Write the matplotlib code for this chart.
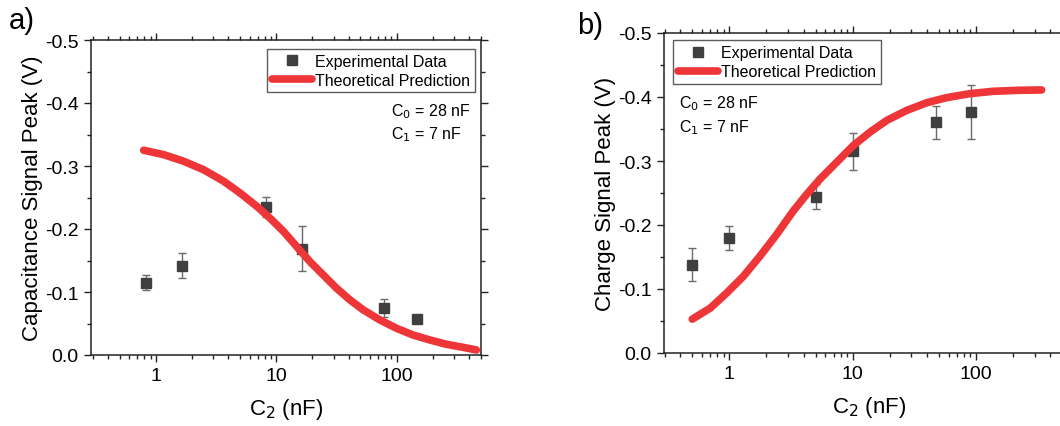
import matplotlib.pyplot as plt
from matplotlib.lines import Line2D
from matplotlib.ticker import FixedLocator, LogLocator, MultipleLocator, FuncFormatter, NullFormatter

plt.rcParams['font.family'] = ['Liberation Sans', 'DejaVu Sans']
plt.rcParams['axes.unicode_minus'] = False

# panel a) capacitance signal
cap_x = [0.826, 1.64, 8.18, 16.5, 78.5, 148]
cap_y = [-0.1145, -0.1416, -0.2354, -0.169, -0.0748, -0.0578]
cap_err = [0.0117, 0.020, 0.016, 0.035, 0.0146, 0.004]
cap_theory_x = [0.79, 1.16, 1.70, 2.49, 3.64, 5.01, 6.89, 8.89, 11.5, 14.8,
                19.1, 24.6, 31.7, 41, 52.9, 72.6, 100, 137, 189, 260, 357, 461]
cap_theory_y = [-0.325, -0.318, -0.3075, -0.294, -0.276, -0.257, -0.236, -0.217,
                -0.196, -0.172, -0.148, -0.127, -0.106, -0.0875, -0.0716, -0.0557,
                -0.0424, -0.0318, -0.0239, -0.017, -0.0122, -0.008]

# panel b) charge signal
chg_x = [0.5, 1.0, 5.0, 10, 47.7, 92]
chg_y = [-0.1377, -0.1796, -0.2445, -0.3152, -0.3607, -0.3764]
chg_err = [0.0259, 0.0188, 0.019, 0.0285, 0.026, 0.042]
chg_theory_x = [0.50, 0.70, 0.95, 1.30, 1.77, 2.42, 3.30, 4.24, 5.43, 7.41,
                10.1, 13.8, 18.9, 27.4, 39.8, 57.8, 89, 138, 227, 341]
chg_theory_y = [-0.0529, -0.0702, -0.0937, -0.1199, -0.1513, -0.1853, -0.222,
                -0.248, -0.2717, -0.2979, -0.324, -0.345, -0.3634, -0.379, -0.391,
                -0.399, -0.4052, -0.4089, -0.4105, -0.411]

red = '#EE3538'
marker_col = '#3F3F3F'

fig = plt.figure(figsize=(10.6, 4.27), dpi=100)
ax1 = fig.add_axes([91 / 1060, 71 / 427, 390 / 1060, 315 / 427])
ax2 = fig.add_axes([664 / 1060, 73 / 427, 411 / 1060, 320 / 427])


def style(ax, ylabel, xlim):
    ax.set_xscale('log')
    ax.set_xlim(*xlim)
    ax.set_ylim(0, -0.5)
    ax.xaxis.set_major_locator(FixedLocator([1, 10, 100]))
    ax.xaxis.set_minor_locator(LogLocator(base=10, subs=range(2, 10)))
    ax.xaxis.set_major_formatter(FuncFormatter(lambda v, p: '%g' % v))
    ax.xaxis.set_minor_formatter(NullFormatter())
    ax.yaxis.set_major_locator(MultipleLocator(0.1))
    ax.yaxis.set_minor_locator(MultipleLocator(0.05))
    ax.yaxis.set_major_formatter(FuncFormatter(lambda v, p: '%.1f' % v))
    ax.tick_params(which='both', direction='out', top=True, right=True,
                   labelsize=14, width=1, color='#222222')
    ax.tick_params(which='major', length=5, pad=4)
    ax.tick_params(which='minor', length=3)
    for s in ax.spines.values():
        s.set_linewidth(1.1)
        s.set_color('#222222')
    ax.set_xlabel('C$_2$ (nF)', fontsize=16, labelpad=8)
    ax.set_ylabel(ylabel, fontsize=16, labelpad=1)


style(ax1, 'Capacitance Signal Peak (V)', (0.288, 504))
style(ax2, 'Charge Signal Peak (V)', (0.295, 636))

for ax, x, y, err, tx, ty in [(ax1, cap_x, cap_y, cap_err, cap_theory_x, cap_theory_y),
                              (ax2, chg_x, chg_y, chg_err, chg_theory_x, chg_theory_y)]:
    ax.errorbar(x, y, yerr=err, fmt='s', color=marker_col, ms=6.5,
                ecolor='#6A6A6A', elinewidth=1, capsize=3, capthick=1, zorder=3)
    ax.plot(tx, ty, color=red, lw=5.5, solid_capstyle='round',
            solid_joinstyle='round', zorder=4)

handles = [Line2D([], [], ls='none', marker='s', ms=6.5, color=marker_col),
           Line2D([], [], color=red, lw=5.5, solid_capstyle='round')]
labels = ['Experimental Data', 'Theoretical Prediction']

leg_kw = dict(fontsize=11.5, frameon=True, fancybox=False, handlelength=2.5,
              handletextpad=0.2, borderpad=0.3, labelspacing=0.25,
              borderaxespad=0)
l1 = ax1.legend(handles, labels, loc='upper right', bbox_to_anchor=(0.985, 0.972), **leg_kw)
l2 = ax2.legend(handles, labels, loc='upper left', bbox_to_anchor=(0.022, 0.977), **leg_kw)
for leg in (l1, l2):
    leg.get_frame().set_edgecolor('#333333')
    leg.get_frame().set_linewidth(1.0)

fig.text(391 / 1060, 1 - 116 / 427, 'C$_0$ = 28 nF', fontsize=11.5, va='baseline')
fig.text(391 / 1060, 1 - 139 / 427, 'C$_1$ = 7 nF', fontsize=11.5, va='baseline')
fig.text(679 / 1060, 1 - 108 / 427, 'C$_0$ = 28 nF', fontsize=11.5, va='baseline')
fig.text(679 / 1060, 1 - 132 / 427, 'C$_1$ = 7 nF', fontsize=11.5, va='baseline')

fig.text(9 / 1060, 1 - 29 / 427, 'a)', fontsize=21, va='baseline')
fig.text(577 / 1060, 1 - 34 / 427, 'b)', fontsize=21, va='baseline')

fig.savefig('out.png', dpi=100)
